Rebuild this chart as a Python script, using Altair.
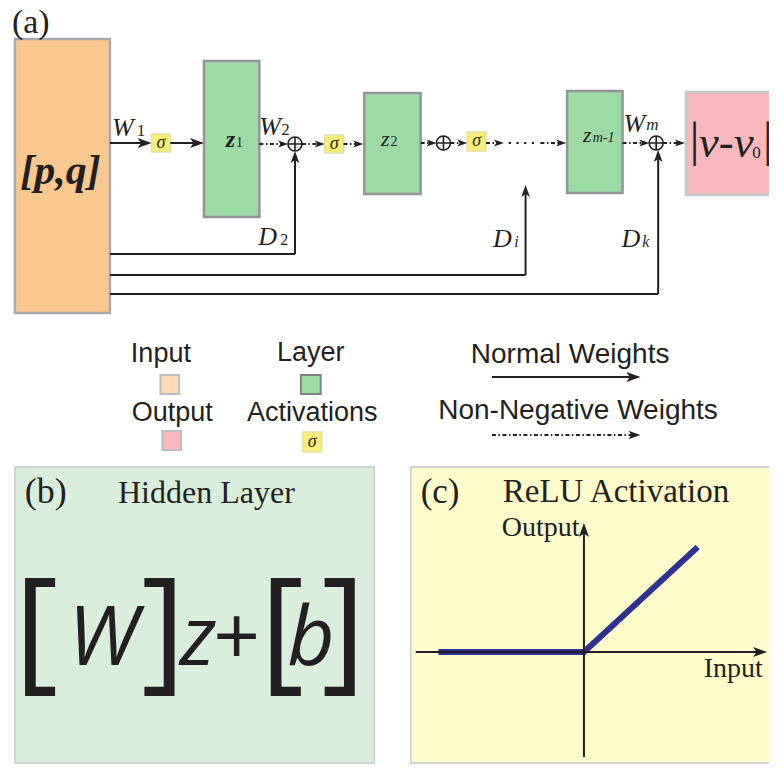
import altair as alt
import pandas as pd

# ---------------- chart content ----------------
panel_labels = ["(a)", "(b)", "(c)"]
panel_titles = ["Hidden Layer", "ReLU Activation"]
legend_box_labels = ["Input", "Layer", "Output", "Activations"]
legend_arrow_labels = ["Normal Weights", "Non-Negative Weights"]
input_label = "[p,q]"
layer_symbol = "z"
layer_subscripts = ["1", "2", "m-1"]
weight_symbol = "W"
weight_subscripts = ["1", "2", "m"]
skip_symbol = "D"
skip_subscripts = ["2", "i", "k"]
activation_symbol = "σ"
output_parts = ["|", "ν-ν", "0", "|"]
formula_parts = ["[", "W", "]", "z", "+", "[", "b", "]"]
relu_axis_labels = ["Input", "Output"]
relu_input = [-1.47, 0.0, 1.15]
relu_output = [0.0, 0.0, 1.05]

# ---------------- colours ----------------
INK = "#231F20"
C_INPUT, C_INPUT_LEG = "#FAC78F", "#FDDCB5"
C_LAYER = "#9CDBA4"
C_SIGMA = "#F8EF78"
C_OUTPUT = "#F9B8BD"
C_PANEL_B, C_PANEL_C = "#D9EEDD", "#FFFCCB"
C_RELU = "#2E3192"

SERIF = "Liberation Serif"
SANS = "Liberation Sans"
FORM = "Open Sans"

# ---------------- layout (page pixel frame) ----------------
W_PX, H_PX = 761, 757
X = alt.Scale(domain=[8, 777], nice=False, zero=False)
Y = alt.Scale(domain=[8, 8 + H_PX], nice=False, zero=False, reverse=True)
BOTTOM = 8 + H_PX - 2


def xe(f):
    return alt.X(f, type="quantitative", scale=X, axis=None)


def ye(f):
    return alt.Y(f, type="quantitative", scale=Y, axis=None)


rects = pd.DataFrame([
    # panels
    (15, 378, 467, BOTTOM, C_PANEL_B, "#D1D3D4", 2),
    (415, 800, 467, BOTTOM, C_PANEL_C, "#D1D3D4", 2),
    # main diagram
    (15, 111, 39, 313, C_INPUT, "#A7A9AC", 2.5),
    (206, 262, 61, 217, C_LAYER, "#939598", 2.5),
    (368, 425, 93, 194, C_LAYER, "#939598", 2.5),
    (573, 629, 91, 193, C_LAYER, "#939598", 2.5),
    (693, 800, 92, 195, C_OUTPUT, "#C7C8CA", 2.5),
    (153, 172, 134, 152, C_SIGMA, "#E3DFA8", 1.5),
    (328, 347, 135, 153, C_SIGMA, "#E3DFA8", 1.5),
    (472, 491, 132, 151, C_SIGMA, "#E3DFA8", 1.5),
    # legend swatches
    (162, 181, 375, 394, C_INPUT_LEG, "#BCBEC0", 2),
    (304, 324, 375, 394, C_LAYER, "#808285", 2),
    (164, 183, 431, 450, C_OUTPUT, "#BCBEC0", 2),
    (306, 325, 432, 452, C_SIGMA, "#E3DFA8", 1.5),
], columns=["x", "x2", "y", "y2", "fill", "stroke", "sw"])

rect_layer = alt.Chart(rects).mark_rect().encode(
    x=xe("x"), x2="x2", y=ye("y"), y2="y2",
    fill=alt.Fill("fill:N", scale=None),
    stroke=alt.Stroke("stroke:N", scale=None),
    strokeWidth=alt.StrokeWidth("sw:Q", scale=None),
)

# arrows: (x1, y1, tip x, tip y, head radius)
solid_arrows = [
    (111, 143, 153, 143, 7), (172, 143, 206, 143, 7),
    (298, 254, 298, 151, 6), (531, 275, 531, 185, 6), (665, 294, 665, 150, 6),
    (497, 377, 647, 377, 7),
    (590, 757, 590, 523, 7), (420, 652, 775, 652, 7),
]
solid_lines = [(111, 254, 298, 254), (111, 275, 531, 275), (111, 294, 665, 294)]
dotted_arrows = [
    (262, 144, 291, 144, 5), (305, 144, 328, 144, 5), (347, 144, 367, 144, 5),
    (425, 143, 441, 143, 5), (455, 143, 472, 143, 5), (491, 143, 509, 143, 5),
    (546, 143, 572, 143, 5), (629, 143, 656, 143, 5), (670, 143, 692, 143, 5),
    (497, 435, 647, 435, 6),
]
sparse_dots = [(514, 143, 545, 143)]


def shafts(arrows):
    rows = []
    for x1, y1, x2, y2, r in arrows:
        dx, dy = x2 - x1, y2 - y1
        L = (dx * dx + dy * dy) ** 0.5
        rows.append((x1, y1, x2 - dx / L * r, y2 - dy / L * r))
    return rows


def heads(arrows):
    rows = []
    for x1, y1, x2, y2, r in arrows:
        dx, dy = x2 - x1, y2 - y1
        L = (dx * dx + dy * dy) ** 0.5
        ux, uy = dx / L, dy / L
        if abs(ux) > 0.5:
            ang = 0 if ux > 0 else 180
        else:
            ang = 90 if uy > 0 else 270
        rows.append((x2 - ux * r, y2 - uy * r, ang, (2 * r) ** 2))
    return pd.DataFrame(rows, columns=["x", "y", "angle", "size"])


def rule_layer(rows, dash=None, width=2):
    df = pd.DataFrame(rows, columns=["x", "y", "x2", "y2"])
    kw = dict(color=INK, strokeWidth=width, strokeCap="butt")
    if dash:
        kw["strokeDash"] = dash
    return alt.Chart(df).mark_rule(**kw).encode(
        x=xe("x"), y=ye("y"), x2="x2", y2="y2")


HEAD = "M 1 0 L -1 -0.72 L -0.5 0 L -1 0.72 Z"
OPLUS = "M -1 0 A 1 1 0 1 0 1 0 A 1 1 0 1 0 -1 0 Z M -1 0 L 1 0 M 0 -1 L 0 1"

DASHDOT = [4, 2.5, 1.5, 2.5]

line_layers = [
    rule_layer(shafts(solid_arrows)),
    rule_layer(solid_lines),
    rule_layer(shafts(dotted_arrows), dash=DASHDOT),
    rule_layer(sparse_dots, dash=[2.2, 5.5], width=2.2),
]

head_layer = alt.Chart(heads(solid_arrows + dotted_arrows)).mark_point(
    shape=HEAD, filled=True, color=INK, opacity=1, strokeWidth=0
).encode(
    x=xe("x"), y=ye("y"),
    angle=alt.Angle("angle:Q", scale=None),
    size=alt.Size("size:Q", scale=None),
)

oplus_df = pd.DataFrame({"x": [298, 448, 663], "y": [144, 143, 143]})
oplus_layer = alt.Chart(oplus_df).mark_point(
    shape=OPLUS, filled=False, stroke=INK, strokeWidth=1.6, opacity=1, size=196
).encode(x=xe("x"), y=ye("y"))

# ReLU curve (origin at 590,652; 100 px per unit)
relu_df = pd.DataFrame({
    "x": [590 + 100 * v for v in relu_input],
    "y": [652 - 100 * v for v in relu_output],
    "i": list(range(len(relu_input))),
})
relu_layer = alt.Chart(relu_df).mark_line(
    color=C_RELU, strokeWidth=6, strokeCap="butt", strokeJoin="miter"
).encode(x=xe("x"), y=ye("y"), order="i:Q")

# ---------------- texts ----------------
# (text, x, baseline y, size, font, style, weight, align)
T = []
T.append((panel_labels[0], 12, 33, 34, SERIF, "normal", "normal", "left"))
T.append((panel_labels[1], 25, 503, 36, SERIF, "normal", "normal", "left"))
T.append((panel_labels[2], 425, 503, 35, SERIF, "normal", "normal", "left"))
T.append((panel_titles[0], 208.5, 503, 32, SERIF, "normal", "normal", "center"))
T.append((panel_titles[1], 508, 502, 33, SERIF, "normal", "normal", "left"))
T.append((input_label, 61, 184, 42, SERIF, "italic", "bold", "center"))
# weights
for (x, y), sub, sx, sy, sst in zip([(113, 136), (262, 135), (630, 132)], weight_subscripts,
                                   [138, 284, 653], [136, 135, 130],
                                   ["normal", "normal", "italic"]):
    T.append((weight_symbol, x, y, 26, SERIF, "italic", "normal", "left"))
    T.append((sub, sx, sy, 17, SERIF, sst, "normal", "left"))
# layers
T.append((layer_symbol, 228, 147, 24, SERIF, "italic", "bold", "left"))
T.append((layer_subscripts[0], 238.5, 147, 14, SERIF, "normal", "normal", "left"))
T.append((layer_symbol, 385, 146, 22, SERIF, "italic", "normal", "left"))
T.append((layer_subscripts[1], 394.5, 146, 14, SERIF, "normal", "normal", "left"))
T.append((layer_symbol, 589, 142, 22, SERIF, "italic", "normal", "left"))
T.append((layer_subscripts[2], 599, 142, 14, SERIF, "italic", "normal", "left"))
# skip connections
for x, y, sub, sx, sst in [(261, 245, skip_subscripts[0], 283, "normal"),
                          (498, 247, skip_subscripts[1], 519.5, "italic"),
                          (628, 247, skip_subscripts[2], 649, "italic")]:
    T.append((skip_symbol, x, y, 26, SERIF, "italic", "normal", "left"))
    T.append((sub, sx, y, 16, SERIF, sst, "normal", "left"))
# activations
for cx, by in [(162.5, 148), (337.5, 149), (481.5, 146), (315.5, 447)]:
    T.append((activation_symbol, cx, by, 18, SERIF, "italic", "normal", "center"))
# output
T.append((output_parts[0], 697, 156, 48, SERIF, "normal", "normal", "left"))
T.append((output_parts[1], 706, 157, 45, SERIF, "italic", "normal", "left"))
T.append((output_parts[2], 760, 158, 17, SERIF, "normal", "normal", "left"))
T.append((output_parts[3], 771, 156, 48, SERIF, "normal", "normal", "left"))
# legend
for lab, x, y in zip(legend_box_labels, [162.5, 314, 174, 315.5], [362, 361, 421, 421]):
    T.append((lab, x, y, 27, SANS, "normal", "normal", "center"))
T.append((legend_arrow_labels[0], 576, 363, 28, SANS, "normal", "normal", "center"))
T.append((legend_arrow_labels[1], 584, 419, 28, SANS, "normal", "normal", "center"))
# formula (b)
for part, cx, size, by, style in zip(formula_parts,
                                     [36.5, 104, 165, 200, 239, 285, 314, 347],
                                     [136, 82, 136, 82, 82, 136, 82, 136],
                                     [675, 665, 675, 665, 665, 675, 665, 675],
                                     ["normal", "italic", "normal", "italic", "normal",
                                      "normal", "italic", "normal"]):
    T.append((part, cx, by, size, FORM, style, "normal", "center"))
# ReLU axis labels
T.append((relu_axis_labels[0], 711, 677, 28, SERIF, "normal", "normal", "left"))
T.append((relu_axis_labels[1], 507, 536, 28, SERIF, "normal", "normal", "left"))

texts = pd.DataFrame(T, columns=["text", "x", "y", "size", "font", "style", "weight", "align"])

text_layers = []
for (font, style, weight, align), g in texts.groupby(["font", "style", "weight", "align"]):
    text_layers.append(
        alt.Chart(g.reset_index(drop=True)).mark_text(
            font=font, fontStyle=style, fontWeight=weight, align=align,
            baseline="alphabetic", color=INK,
        ).encode(
            x=xe("x"), y=ye("y"), text="text:N",
            size=alt.Size("size:Q", scale=None),
        )
    )

chart = alt.layer(
    rect_layer, relu_layer, *line_layers, head_layer, oplus_layer, *text_layers
).properties(
    width=W_PX, height=H_PX, padding=0,
    autosize=alt.AutoSizeParams(type="none"),
    background="white",
).configure_view(strokeWidth=0)

chart.save("out.html", embed_options={"renderer": "svg", "actions": False})
